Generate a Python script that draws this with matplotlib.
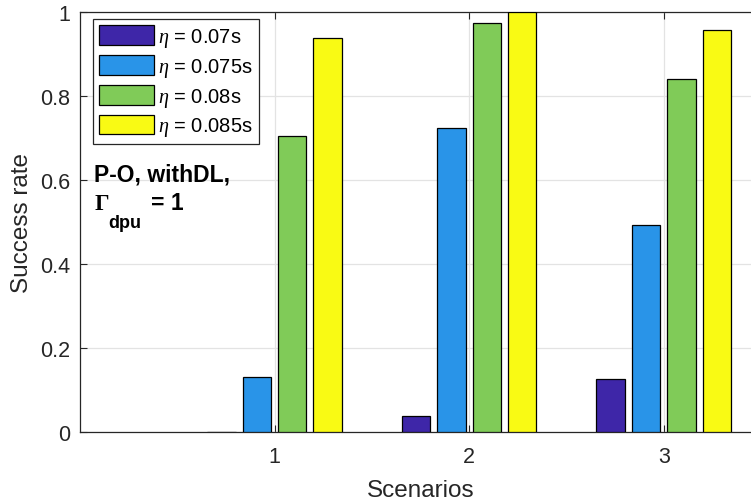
import numpy as np
import matplotlib
matplotlib.use("Agg")
import matplotlib.pyplot as plt

plt.rcParams['font.family'] = ['Liberation Sans', 'DejaVu Sans']
plt.rcParams['mathtext.fontset'] = 'custom'
plt.rcParams['mathtext.rm'] = 'Liberation Serif'
plt.rcParams['mathtext.it'] = 'Liberation Serif:italic'
plt.rcParams['mathtext.bf'] = 'Liberation Sans:bold'

# Datos
escenarios = [1, 2, 3]
etiquetas = [r'$\eta$ = 0.07s', r'$\eta$ = 0.075s', r'$\eta$ = 0.08s', r'$\eta$ = 0.085s']
eta_070 = [0.0, 0.037, 0.126]
eta_075 = [0.130, 0.723, 0.493]
eta_080 = [0.705, 0.975, 0.841]
eta_085 = [0.938, 1.0, 0.956]
series = [eta_070, eta_075, eta_080, eta_085]
colores = ['#3E26A8', '#2994E8', '#80CB58', '#F9FA14']

fig = plt.figure(figsize=(7.51, 5.02), dpi=100)
ax = fig.add_axes([80 / 751, 69 / 502, 681 / 751, 420 / 502])

# barras agrupadas (estilo MATLAB)
n = len(series)
ancho_grupo = min(0.8, n / (n + 1.5))
paso = ancho_grupo / n
ancho = paso * 0.8
x = np.array(escenarios, dtype=float)
for i, (vals, c, lab) in enumerate(zip(series, colores, etiquetas)):
    off = (i - (n - 1) / 2) * paso
    ax.bar(x + off, vals, width=ancho, color=c, edgecolor='black',
           linewidth=0.9, label=lab, zorder=3)

ax.set_xlim(0, 3.5)
ax.set_ylim(0, 1)
ax.set_xticks(escenarios)
ax.set_yticks([0, 0.2, 0.4, 0.6, 0.8, 1])
ax.set_yticklabels(['0', '0.2', '0.4', '0.6', '0.8', '1'])
ax.grid(True, color='#e3e3e3', linewidth=0.9, zorder=0)
ax.set_axisbelow(True)
ax.tick_params(direction='in', length=5, width=0.8, colors='#262626',
               labelsize=15.5, top=True, right=True, pad=7)
ax.tick_params(axis='x', pad=10)
for s in ax.spines.values():
    s.set_color('#262626')
    s.set_linewidth(0.9)

ax.set_xlabel('Scenarios', fontsize=17.5, color='#262626', labelpad=9)
ax.set_ylabel('Success rate', fontsize=17.5, color='#262626', labelpad=5)

leg = ax.legend(loc='upper left', bbox_to_anchor=(0.019, 0.983), fontsize=14.5,
                handlelength=2.75, handleheight=1.14, handletextpad=0.2,
                labelspacing=0.3, borderpad=0.3, borderaxespad=0,
                fancybox=False, framealpha=1, edgecolor='#262626')
leg.get_frame().set_linewidth(0.9)

# anotación: P-O, withDL, Gamma_dpu = 1
ax.text(0.02, 0.598, 'P-O, withDL,', transform=ax.transAxes,
        fontsize=16.5, fontweight='bold', va='baseline')
ax.text(0.021, 0.531, '\u0393', transform=ax.transAxes, fontsize=16.5,
        fontweight='bold', family='Liberation Serif', va='baseline')
ax.text(0.041, 0.488, 'dpu', transform=ax.transAxes,
        fontsize=13, fontweight='bold', va='baseline')
ax.text(0.104, 0.531, '= 1', transform=ax.transAxes,
        fontsize=16.5, fontweight='bold', va='baseline')

plt.savefig('out.png', dpi=100)
